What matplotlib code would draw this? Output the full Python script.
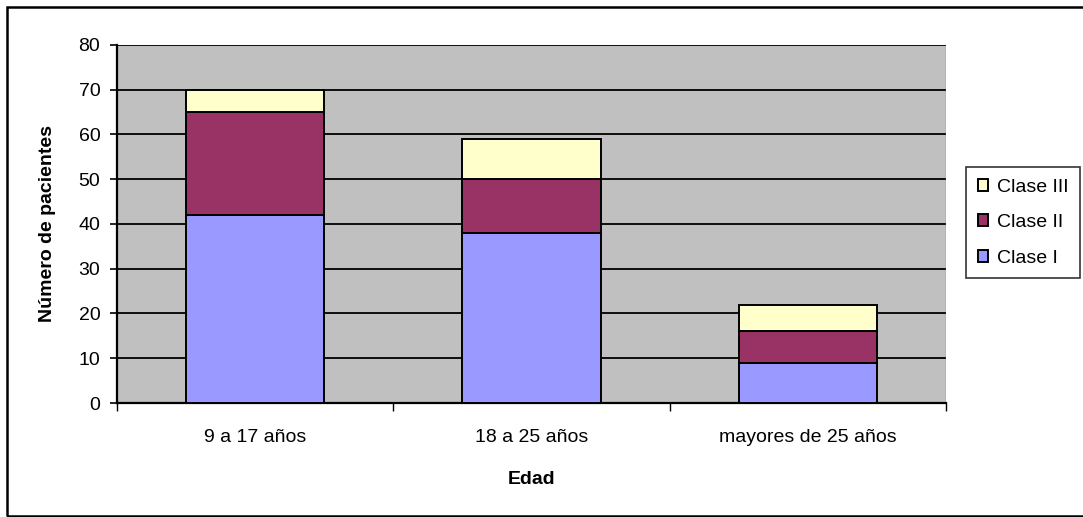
import matplotlib
matplotlib.use("Agg")
import matplotlib.pyplot as plt
from matplotlib.patches import Rectangle

plt.rcParams['font.family'] = ['Liberation Sans', 'DejaVu Sans']

edades = ['9 a 17 años', '18 a 25 años', 'mayores de 25 años']
clase_1 = [42, 38, 9]
clase_2 = [23, 12, 7]
clase_3 = [5, 9, 6]
colores = ['#9999FF', '#993366', '#FFFFCC']
fs = 14

fig = plt.figure(figsize=(10.83, 5.17), dpi=100)
ax = fig.add_axes([0.108, 0.2205, 0.7655, 0.6925])
ax.set_facecolor('#C0C0C0')

x = list(range(len(edades)))
base2 = clase_1
base3 = [a + b for a, b in zip(clase_1, clase_2)]
b1 = ax.bar(x, clase_1, 0.5, color=colores[0], edgecolor='black', linewidth=1.4, label='Clase I', zorder=3)
b2 = ax.bar(x, clase_2, 0.5, bottom=base2, color=colores[1], edgecolor='black', linewidth=1.4, label='Clase II', zorder=3)
b3 = ax.bar(x, clase_3, 0.5, bottom=base3, color=colores[2], edgecolor='black', linewidth=1.4, label='Clase III', zorder=3)

ax.set_xlim(-0.5, 2.5)
ax.set_ylim(0, 80)
ax.set_yticks(range(0, 81, 10))
ax.yaxis.grid(True, color='black', linewidth=1.3, zorder=1)
ax.set_axisbelow(True)

ax.set_xticks(x)
ax.set_xticklabels(edades)
ax.set_xticks([-0.5, 0.5, 1.5, 2.5], minor=True)
ax.tick_params(axis='x', which='major', length=0, pad=19, labelsize=fs)
ax.tick_params(axis='x', which='minor', length=6, width=1, direction='out')
ax.tick_params(axis='y', length=5, width=1.2, labelsize=fs, pad=7)

for s in ['top', 'right']:
    ax.spines[s].set_visible(False)
ax.spines['left'].set_linewidth(1.6)
ax.spines['bottom'].set_linewidth(1.6)
ax.axvline(2.5, color='#808080', linewidth=1, zorder=2)

ax.set_xlabel('Edad', fontsize=fs, fontweight='bold')
ax.set_ylabel('Número de pacientes', fontsize=fs, fontweight='bold')
ax.xaxis.set_label_coords(0.5, -0.19)
ax.yaxis.set_label_coords(-0.074, 0.5)

leg = fig.legend([b3, b2, b1], ['Clase III', 'Clase II', 'Clase I'],
                 loc='upper left', bbox_to_anchor=(0.892, 0.677),
                 fontsize=fs, frameon=True, fancybox=False, edgecolor='black',
                 handlelength=0.55, handleheight=0.55, handletextpad=0.45,
                 labelspacing=0.95, borderpad=0.6, borderaxespad=0)
leg.get_frame().set_linewidth(1.2)

# chart border
fig.patches.append(Rectangle((0.0065, 0.002), 1.2, 0.985, transform=fig.transFigure,
                             fill=False, edgecolor='black', linewidth=1.8))

fig.savefig('out.png', dpi=100)
